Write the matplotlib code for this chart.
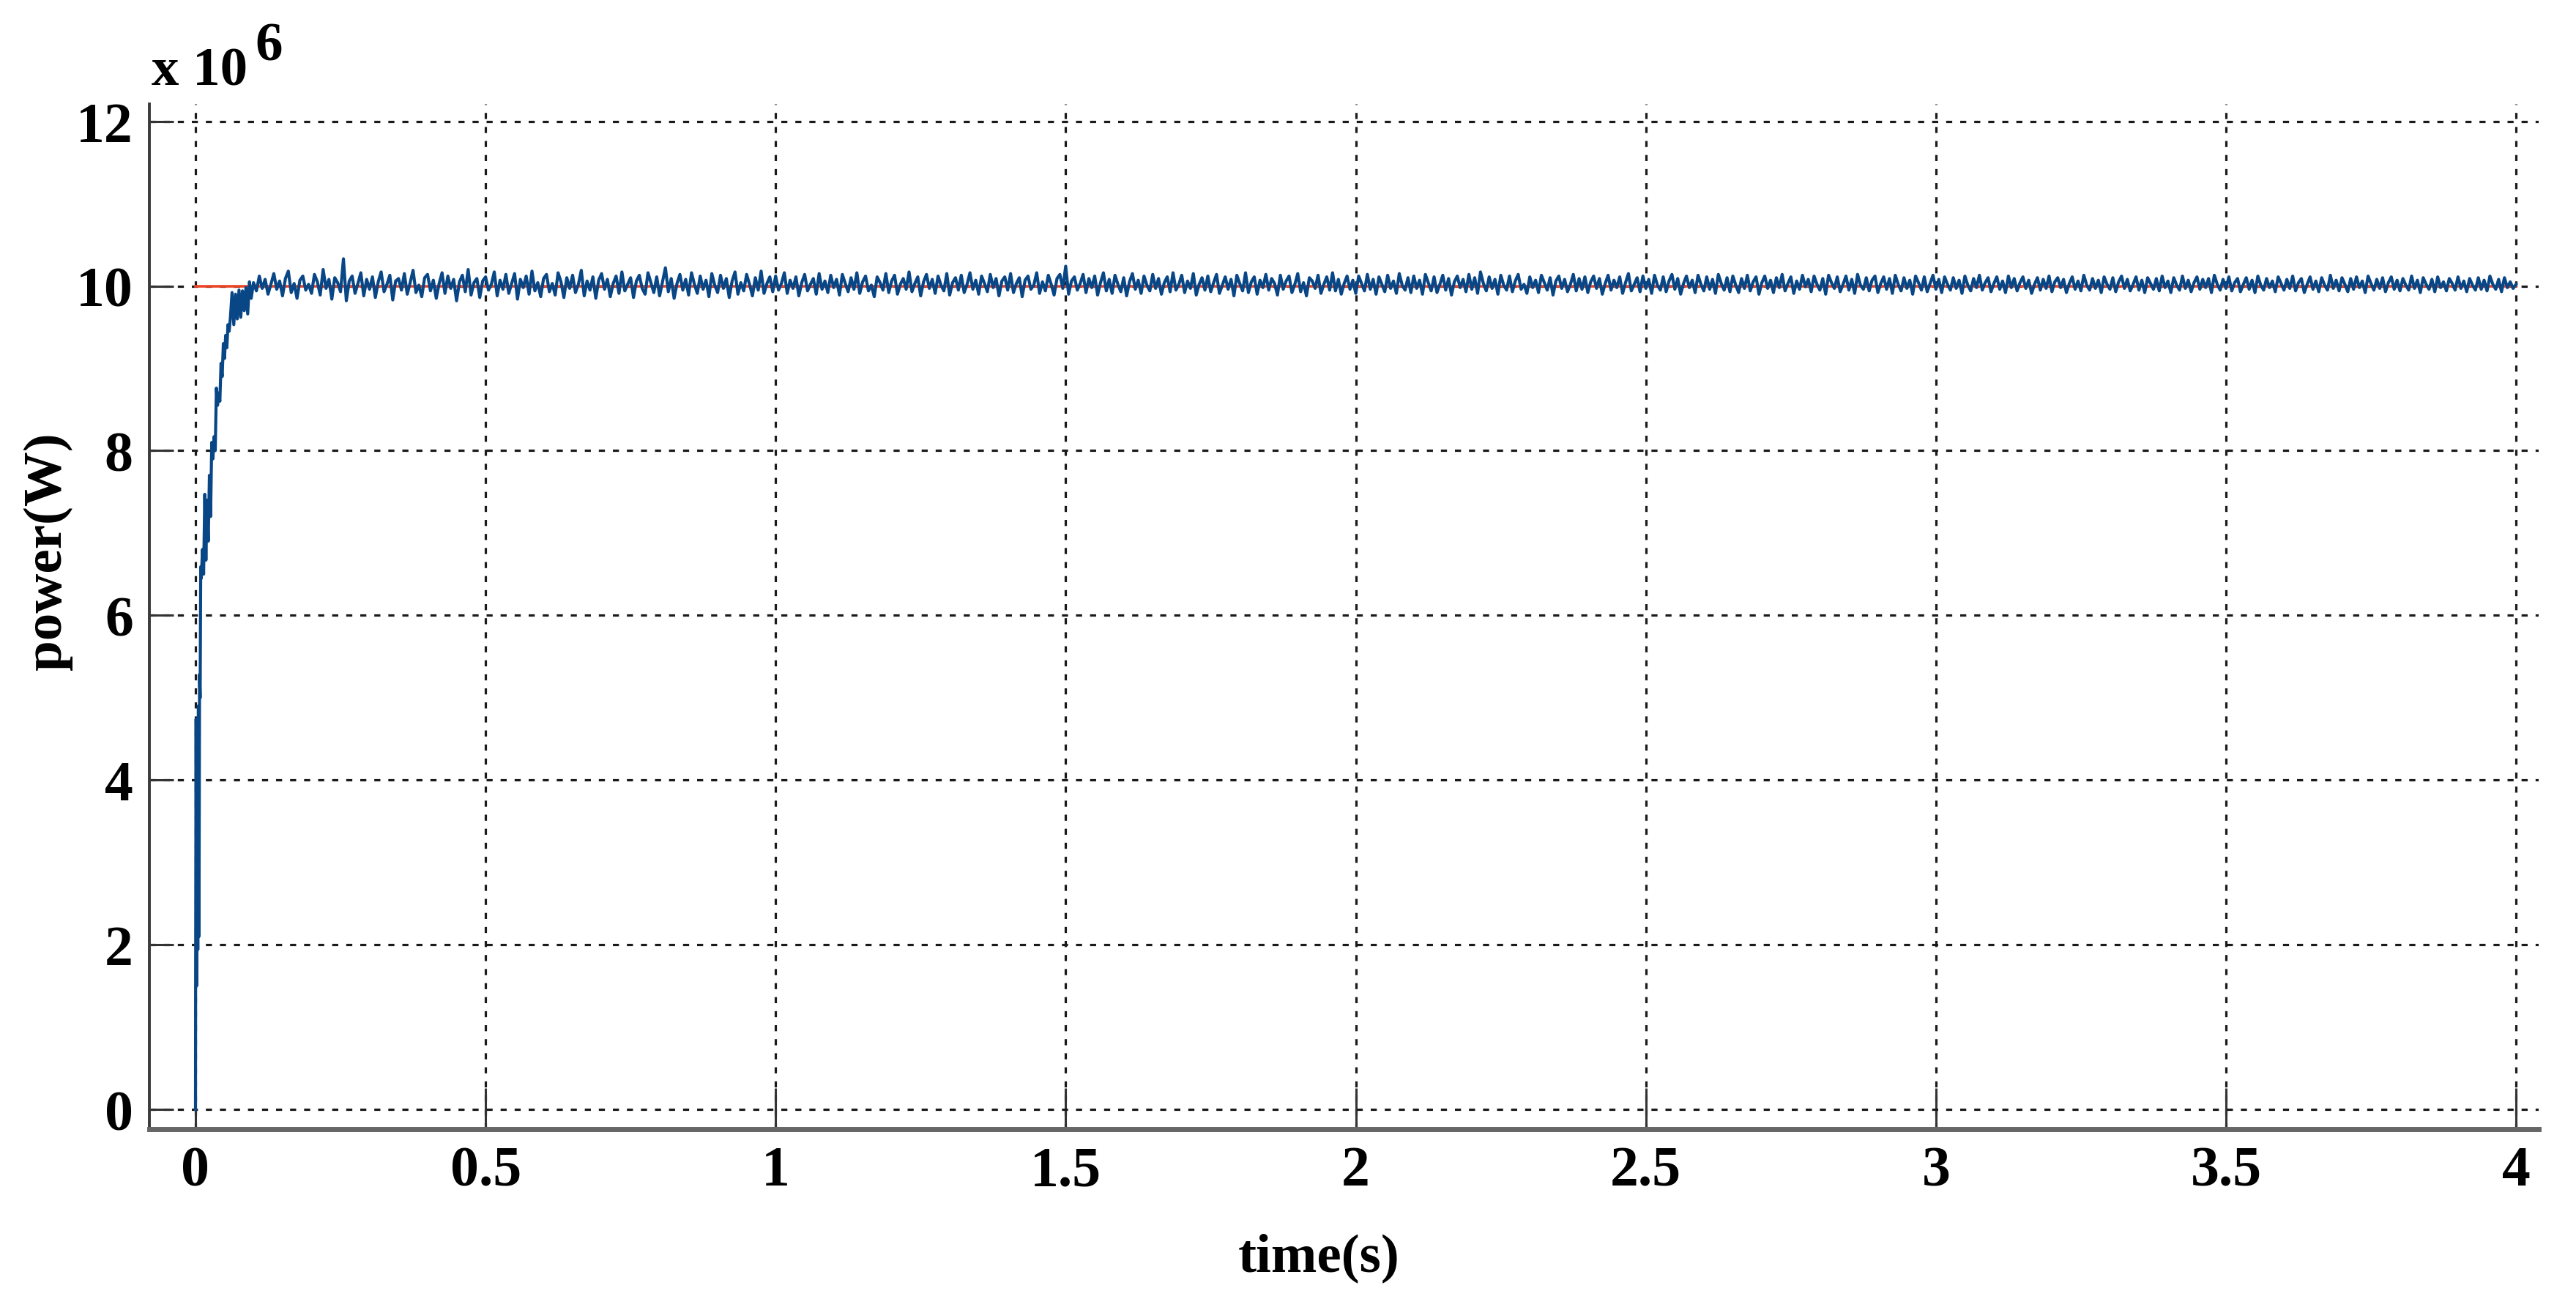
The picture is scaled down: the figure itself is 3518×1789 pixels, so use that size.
import numpy as np
import matplotlib
matplotlib.use('Agg')
from matplotlib import pyplot as plt

# Start-up transient, time in s and power in MW
rise_t = [0.000, 0.0002, 0.001, 0.002, 0.003, 0.004, 0.005, 0.006, 0.007, 0.008,
          0.009, 0.010, 0.012, 0.014, 0.016, 0.018, 0.020, 0.022, 0.024, 0.026,
          0.028, 0.030, 0.032, 0.034, 0.036, 0.038, 0.040, 0.042, 0.044, 0.046,
          0.048, 0.050, 0.052, 0.054, 0.056, 0.058, 0.060, 0.063, 0.066, 0.069,
          0.072, 0.075, 0.078, 0.081, 0.084, 0.087, 0.090, 0.093, 0.096]
rise_p = [0.0, 1.45, 4.74, 1.5, 3.34, 1.94, 4.9, 2.1, 5.28, 5.0,
          6.59, 6.45, 6.8, 6.5, 7.47, 6.67, 7.4, 6.9, 7.7, 7.2,
          8.1, 7.9, 8.17, 8.0, 8.76, 8.55, 8.7, 8.6, 9.06, 8.9,
          9.3, 9.12, 9.4, 9.25, 9.53, 9.45, 9.6, 9.92, 9.53, 9.9,
          9.6, 9.95, 9.62, 9.94, 9.7, 9.98, 9.66, 10.05, 9.85]

# Ripple around the 10 MW set point after t = 0.1 s, every 0.005 s, in units of 0.01 MW
ripple_a = [4, -6, 12, -3, 8, -10, 2, 15, -4, 6, -12, 9, 18, -8, 3, -15, 7, 12, -5, 2,
            -9, 14, 5, -11, 20, -3, 8, -16, 10, 4, -7, 33, -18, 6, 12, -9, 3, 16, -12, 8,
            -4, 11, -14, 5, 17, -7, 2, 13, -17, 6, 9, -5, 15, -10, 4, 19, -8, 1, -13, 10,
            14, -6, 7, -15, 3, 16, -9, 12, -3, 8, -18, 5, 13, -7, 20, -11, 4, 9, -14, 6,
            11, -5, 2, 17, -12, 7, -4, 14, -9, 3, 15, -16, 8, -2, 12, -10, 18, -6, 4, -13,
            9, 14, -7, 3, -11, 16, 5, -14, 10, -3, 13, -8, 2, 19, -12, 6, -5, 11, -15, 7,
            15, -4, 8, -13, 3, 12, -9, 17, -6, 2, 10, -14, 6, 13, -3, -10, 16, 4, -8, 11,
            -12, 5, 22, -7, 9, -15, 3, 14, -5, 8, -11, 16, 2, -9, 12, -4, 7, -13, 15, 1,
            -8, 13, -3, 9, -14, 6, 17, -10, 4, -6, 14, 2, -12, 10, -5, 18, -9, 3, 11, -7]
ripple_b = [12, -5, 3, 16, -9, 7, -3, 11, -12, 4, 14, -6, 2, 9, -10, 15, -4, 6, -8, 13,
            -2, 8, -11, 14, 3, -7, 10, -4, 16, -9, 5, 12, -6, 1, -13, 11, 4, -5, 15, -8,
            6, 13, -10, 2, 9, -4, 17, -7, 3, 11, -12, 5, 14, -3, 8, -9, 12, 1, -6, 15,
            -11, 4, 10, -5, 13, -8, 2, 16, -4, 7, -10, 12, 3, -7, 14, -2, 9, -12, 6, 11,
            -5, 15, -8, 3, 10, -13, 7, 12, -4, 1, 16, -9, 5, -6, 13, 2, -11, 9, 14, -3,
            24, -10, 6, 11, -5, 3, 14, -8, 9, -2, 12, -11, 4, 16, -6, 8, -9, 13, 2, -7,
            10, -12, 5, 15, -4, 7, -9, 12, 1, -6, 14, -3, 9, -10, 4, 11, -7, 16, -5, 2,
            13, -8, 6, -3, 15, -11, 2, 10, -5, 12, -7, 4, 14, -9, 1, 11, -4, 8, -12, 13,
            3, -6, 16, -8, 5, 11, -10, 7, -2, 14, -5, 9, 3, -11, 13, -4, 6, 12, -8, 2,
            15, -7, 4, -12, 10, 6, -3, 13, -9, 2, 11, -5, 16, -6, 8, -10, 3, 12, -4, 7]
ripple_c = [-9, 12, 3, -6, 14, -4, 8, -10, 11, 2, -7, 13, -3, 6, -9, 15, 1, -5, 10, -8,
            12, -3, 7, -10, 14, 4, -6, 11, -8, 2, 13, -5, 9, -11, 5, 12, -2, 8, -7, 14,
            -4, 10, -9, 17, 3, -6, 11, -3, 8, -10, 13, 1, -5, 12, -7, 6, 14, -4, 2, -9,
            11, -2, 7, -8, 13, 4, -5, 10, -11, 6, 12, -3, 8, -7, 2, 14, -6, 9, -4, 11,
            -8, 5, 12, -3, 9, -10, 3, 13, -5, 7, -2, 11, -9, 4, 15, -6, 2, 10, -7, 12,
            -3, 8, -9, 13, 1, -5, 11, -7, 6, 14, -4, 9, -10, 3, 12, -2, 7, -8, 13, 2,
            -6, 11, -4, 8, -9, 14, 3, -5, 10, -7, 12, 1, -8, 9, -3, 13, -6, 5, 11, -10,
            4, 12, -3, 7, -8, 10, -2, 14, -6, 3, 11, -9, 6, -4, 13, -1, 8, -7, 12, 2,
            -5, 9, -10, 13, 4, -3, 11, -7, 2, 12, -5, 8, -9, 14, 1, -4, 10, -6, 7, 12,
            -8, 3, 11, -4, 9, -9, 13, 2, -6, 10, -3, 7, -10, 12, 4, -5, 11, -7, 3, 13]
ripple_d = [-4, 8, -8, 11, 2, -5, 10, -3, 7, -9, 12, 1, -6, 9, -2, 13, -5, 4, 10, -7,
            3, 11, -4, 6, -8, 12, -2, 9, -6, 4, 11, -3, 7, -9, 2, 10, -5, 8, -3, 12,
            -7, 5, 10, -2, 8, -8, 3, 11, -4, 6, -6, 13, 1, -5, 9, -3, 7, -8, 11, 2,
            -4, 10, -7, 5, 12, -3, 8, -6, 2, 11, -5, 7, -8, 10, 3, -4, 9, -6, 12, -2,
            6, -8, 10, 1, -5, 12, -3, 7, -7, 4, 11, -4, 8, -2, 9, -8, 13, 2, -5, 8,
            -3, 11, -6, 4, 9, -7, 2, 10, -4, 7, -8, 12, 1, -5, 9, -2, 6, -7, 11, 3,
            -5, 8, -3, 12, -6, 4, 9, -8, 2, 11, -4, 6, -7, 10, 1, -5, 13, -3, 7, -6,
            10, 2, -7, 9, -4, 11, -2, 6, -8, 12, 3, -5, 8, -3, 10, -7, 4, 11, -4, 7,
            -6, 9, 1, -5, 12, -3, 7, -8, 10, 2, -4, 8, -7, 11, -2, 5, -6, 9, 3, -5,
            11, -3, 6, -7, 9, 1, -5, 10, -4, 7, -6, 12, 2, -4, 8, -7, 10, -2, 5, -3, 2]

set_point = 10.0       # MW
ripple_start = 0.1     # s
ripple_step = 0.005    # s
ref_t = [0.0, 4.0]

x_ticks = [0, 0.5, 1, 1.5, 2, 2.5, 3, 3.5, 4]
x_tick_labels = ['0', '0.5', '1', '1.5', '2', '2.5', '3', '3.5', '4']
y_ticks = [0, 2, 4, 6, 8, 10, 12]

# assemble the measured signal
ripple = np.array(ripple_a + ripple_b + ripple_c + ripple_d, dtype=float)
ripple_t = ripple_start + ripple_step * np.arange(len(ripple))
time = np.concatenate([rise_t, ripple_t])
power = np.concatenate([rise_p, set_point + ripple / 100.0])

plt.rcParams['font.family'] = ['Liberation Serif', 'DejaVu Serif']
plt.rcParams['font.weight'] = 'bold'

fig = plt.figure(figsize=(17.59, 8.95), dpi=200)
ax = fig.add_axes([0.05799, 0.13799, 0.92751, 0.78212])

ax.plot(ref_t, [set_point, set_point], color='#ec4427', lw=1.3, zorder=2)
ax.plot(time, power, color='#084686', lw=1.5, zorder=3)

ax.set_xlim(-0.0795, 4.039)
ax.set_ylim(-0.24, 12.21)
ax.set_xticks(x_ticks)
ax.set_xticklabels(x_tick_labels)
ax.set_yticks(y_ticks)

ax.grid(True, color='#1a1a1a', lw=1.15, linestyle=(0, (2.6, 3.4)), zorder=1)
ax.set_axisbelow(True)

for side in ['top', 'right']:
    ax.spines[side].set_visible(False)
ax.spines['left'].set_color('#3a3a3a')
ax.spines['left'].set_linewidth(1.4)
ax.spines['bottom'].set_color('#666666')
ax.spines['bottom'].set_linewidth(2.5)

ax.tick_params(axis='x', direction='in', length=20, width=1.1, color='#333333',
               labelsize=28, pad=8)
ax.tick_params(axis='y', direction='in', length=12, width=1.1, color='#333333',
               labelsize=28, pad=8)

ax.set_xlabel('time(s)', fontsize=27, fontweight='bold')
ax.xaxis.set_label_coords(0.4894, -0.125)
ax.xaxis.label.set_va('center')
ax.set_ylabel('power(W)', fontsize=27, fontweight='bold')
ax.yaxis.set_label_coords(-0.0426, 0.5643)
ax.yaxis.label.set_va('center')

# MATLAB style exponent above the y axis
ax.text(0.0009, 1.0186, 'x 10', transform=ax.transAxes, fontsize=27,
        fontweight='bold', ha='left', va='baseline')
ax.text(0.0441, 1.0429, '6', transform=ax.transAxes, fontsize=27,
        fontweight='bold', ha='left', va='baseline')

fig.savefig('out.png', dpi=200, facecolor='white')
